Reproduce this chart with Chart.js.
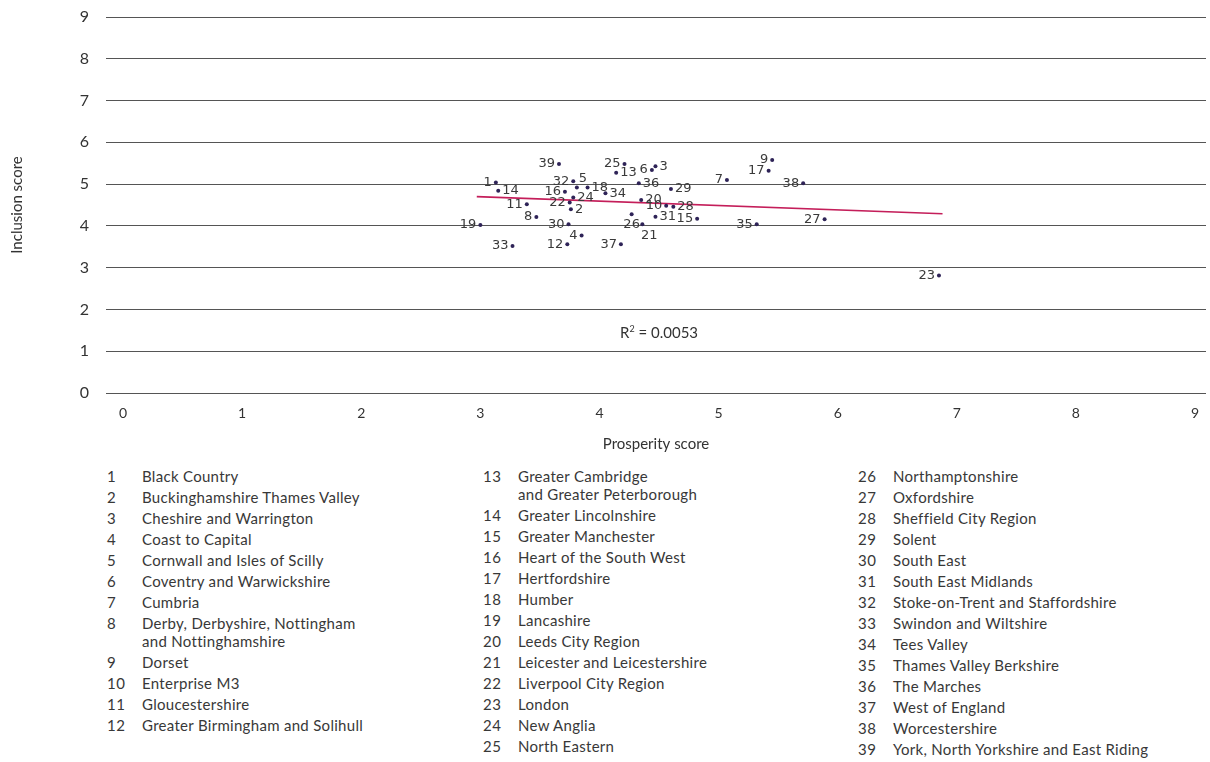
<!DOCTYPE html>
<html><head><meta charset="utf-8">
<script src="https://cdn.jsdelivr.net/npm/chart.js@4/dist/chart.umd.min.js"></script>
<style>
html,body{margin:0;padding:0;background:#fff;}
body{width:1210px;height:762px;overflow:hidden;position:relative;font-family:Lato,sans-serif;}
#wrap{position:absolute;left:0;top:0;width:1210px;height:460px;}
#legend{position:absolute;top:467px;left:0;width:1210px;}
.col{position:absolute;top:0;}
.item{display:flex;font-size:15px;color:#383838;line-height:18px;margin-bottom:3px;letter-spacing:0.3px;}
.num{width:35px;flex:none;letter-spacing:0.5px;}
</style></head>
<body>
<div id="wrap"><canvas id="c" width="1210" height="460"></canvas></div>
<div id="legend"></div>
<script>
const ids = [1,2,3,4,5,6,7,8,9,10,11,12,13,14,15,16,17,18,19,20,21,22,23,24,25,26,27,28,29,30,31,32,33,34,35,36,37,38,39];
const prosperity = [3.13,3.76,4.47,3.85,3.81,4.44,5.07,3.47,5.45,4.56,3.39,3.73,4.14,3.15,4.82,3.71,5.42,3.90,3.00,4.35,4.36,3.75,6.85,3.78,4.21,4.27,5.89,4.62,4.60,3.74,4.47,3.78,3.27,4.05,5.32,4.33,4.18,5.71,3.66];
const inclusion  = [5.04,4.40,5.43,3.77,4.92,5.34,5.10,4.21,5.58,4.48,4.52,3.56,5.27,4.84,4.17,4.82,5.32,4.92,4.02,4.62,4.04,4.56,2.81,4.68,5.48,4.28,4.16,4.46,4.88,4.04,4.22,5.07,3.52,4.78,4.04,5.02,3.56,5.02,5.48];
const names = ["Black Country","Buckinghamshire Thames Valley","Cheshire and Warrington","Coast to Capital","Cornwall and Isles of Scilly","Coventry and Warwickshire","Cumbria","Derby, Derbyshire, Nottingham\nand Nottinghamshire","Dorset","Enterprise M3","Gloucestershire","Greater Birmingham and Solihull","Greater Cambridge\nand Greater Peterborough","Greater Lincolnshire","Greater Manchester","Heart of the South West","Hertfordshire","Humber","Lancashire","Leeds City Region","Leicester and Leicestershire","Liverpool City Region","London","New Anglia","North Eastern","Northamptonshire","Oxfordshire","Sheffield City Region","Solent","South East","South East Midlands","Stoke-on-Trent and Staffordshire","Swindon and Wiltshire","Tees Valley","Thames Valley Berkshire","The Marches","West of England","Worcestershire","York, North Yorkshire and East Riding"];
const xTicks = [0,1,2,3,4,5,6,7,8,9];
const yTicks = [0,1,2,3,4,5,6,7,8,9];
const trendX = [2.97, 6.88];
const trendY = [4.70, 4.29];
const rSquaredText = "0.0053";

// label placement per point (style only): l=left, r=right, ar=above-right, b=below, br=below-right
const labelSide = ['l','r','r','l','ar','l','l','l','l','l','l','l','r','r','l','l','l','r','l','r','br','l','l','r','l','b','l','r','r','l','r','l','l','r','l','r','l','l','l'];

// legend
const cols = [[0,12],[12,25],[25,39]];
const colX = [107,483,858];
const leg = document.getElementById('legend');
cols.forEach((c,ci)=>{
  const d = document.createElement('div'); d.className='col'; d.style.left=colX[ci]+'px';
  for(let i=c[0];i<c[1];i++){
    const it=document.createElement('div'); it.className='item';
    const n=document.createElement('div'); n.className='num'; n.textContent=ids[i];
    const t=document.createElement('div'); t.innerHTML=names[i].split('\n').map(s=>s.replace(/&/g,'&amp;')).join('<br>');
    it.appendChild(n); it.appendChild(t); d.appendChild(it);
  }
  leg.appendChild(d);
});

const labelPlugin = {
  id:'pointLabels',
  afterDatasetsDraw(chart){
    const ctx = chart.ctx;
    const meta = chart.getDatasetMeta(1);
    ctx.save();
    ctx.font = '13px "DejaVu Sans"';
    ctx.fillStyle = '#3a3a3a';
    meta.data.forEach((pt,i)=>{
      const s = labelSide[i]; const txt = String(ids[i]);
      let x=pt.x, y=pt.y;
      ctx.textBaseline='middle';
      if(s==='l'){ctx.textAlign='right'; x-=4;}
      else if(s==='r'){ctx.textAlign='left'; x+=4;}
      else if(s==='ar'){ctx.textAlign='left'; x+=2; y-=9;}
      else if(s==='b'){ctx.textAlign='center'; y+=10;}
      else if(s==='br'){ctx.textAlign='center'; x+=7; y+=11;}
      ctx.fillText(txt,x,y);
    });
    const xs = chart.scales.x, ys = chart.scales.y;
    const cx = xs.getPixelForValue(4.5), cy = ys.getPixelForValue(1.44);
    ctx.fillStyle = '#333';
    const p1='R', p3=' = '+rSquaredText;
    ctx.font='15px Lato'; const w1=ctx.measureText(p1).width, w3=ctx.measureText(p3).width;
    ctx.font='9px Lato'; const w2=ctx.measureText('2').width;
    let sx = cx-(w1+w2+w3)/2;
    ctx.textAlign='left'; ctx.textBaseline='alphabetic';
    const base = cy+5;
    ctx.font='15px Lato'; ctx.fillText(p1,sx,base); sx+=w1;
    ctx.font='9px Lato'; ctx.fillText('2',sx,base-6); sx+=w2;
    ctx.font='15px Lato'; ctx.fillText(p3,sx,base);
    ctx.restore();
  }
};

new Chart(document.getElementById('c'), {
  type:'scatter',
  data:{datasets:[
    {label:'Trend', type:'line', data: trendX.map((x,i)=>({x:x,y:trendY[i]})), borderColor:'#c41e5a', borderWidth:1.6, pointRadius:0, showLine:true, fill:false, order:2},
    {label:'LEPs', data: prosperity.map((x,i)=>({x:x,y:inclusion[i]})), backgroundColor:'#2e2357', borderColor:'#2e2357', pointRadius:2, borderWidth:0, order:1}
  ]},
  options:{
    responsive:false, animation:false, events:[],
    layout:{padding:{top:17,right:0,left:0,bottom:0}},
    plugins:{legend:{display:false}, tooltip:{enabled:false}},
    scales:{
      x:{type:'linear', min:-0.143, max:9.092,
        afterBuildTicks:s=>{s.ticks=xTicks.map(v=>({value:v}));},
        grid:{display:false, drawTicks:false}, border:{display:false},
        ticks:{font:{family:'Lato',size:14}, color:'#333', padding:12, maxRotation:0},
        title:{display:true, text:'Prosperity score', font:{family:'Lato',size:15}, color:'#333', padding:{top:0,bottom:7}},
        afterFit:s=>{s.height=67; s.paddingLeft=0; s.paddingRight=0;}
      },
      y:{min:0, max:9,
        afterBuildTicks:s=>{s.ticks=yTicks.map(v=>({value:v}));},
        grid:{color:'#555', lineWidth:1, drawTicks:false}, border:{display:false},
        ticks:{font:{family:'Lato',size:16}, color:'#333', padding:17},
        title:{display:true, text:'Inclusion score', font:{family:'Lato',size:15}, color:'#333', padding:{top:8,bottom:0}},
        afterFit:s=>{s.width=106; s.paddingTop=0; s.paddingBottom=0;}
      }
    }
  },
  plugins:[labelPlugin]
});
</script>
</body></html>
